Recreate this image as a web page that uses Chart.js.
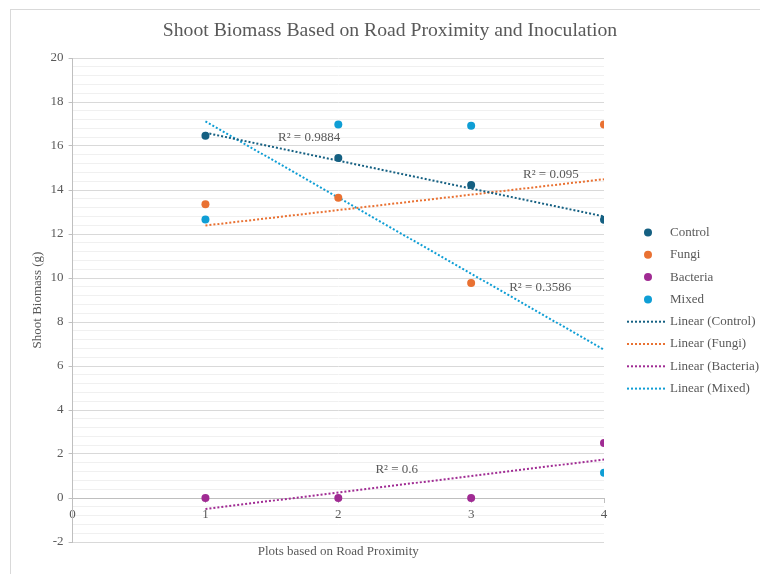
<!DOCTYPE html>
<html>
<head>
<meta charset="utf-8">
<title>Shoot Biomass</title>
<script src="https://cdn.jsdelivr.net/npm/chart.js@4.4.1/dist/chart.umd.min.js"></script>
<style>
  html, body { margin: 0; padding: 0; background: #fff; }
  #wrap { width: 760px; height: 574px; position: relative; }
</style>
</head>
<body>
<div id="wrap"><canvas id="biomassChart"></canvas></div>
<script>
// Plot numbers along the road and shoot biomass (g) per treatment
const plots = [1, 2, 3, 4];
const controlValues = [16.47, 15.45, 14.23, 12.65];
const fungiValues = [13.35, 13.65, 9.77, 16.98];
const bacteriaValues = [0, 0, 0, 2.5];
const mixedValues = [12.66, 16.98, 16.92, 1.15];

const seriesNames = ['Control', 'Fungi', 'Bacteria', 'Mixed'];
const rSquaredLabels = ['R² = 0.9884', 'R² = 0.095', 'R² = 0.6', 'R² = 0.3586'];

const xTicks = [0, 1, 2, 3, 4];
const yTicks = [-2, 0, 2, 4, 6, 8, 10, 12, 14, 16, 18, 20];

const seriesValues = [controlValues, fungiValues, bacteriaValues, mixedValues];
const seriesColors = ['#156082', '#e97132', '#a02b93', '#0f9ed5'];
// where each R² text sits, in axis units
const labelAnchors = [[1.78, 16.38], [3.6, 14.7], [2.44, 1.29], [3.52, 9.56]];

const TEXT = '#595959';
const FONT = '"Liberation Serif", "Times New Roman", serif';
Chart.defaults.font.family = FONT;
Chart.defaults.color = TEXT;

// least squares line through a series, returned as its two end points
function linearTrend(xs, ys) {
    const n = xs.length;
    const mx = xs.reduce((a, b) => a + b, 0) / n;
    const my = ys.reduce((a, b) => a + b, 0) / n;
    let sxy = 0, sxx = 0;
    xs.forEach((x, i) => {
        sxy += (x - mx) * (ys[i] - my);
        sxx += (x - mx) * (x - mx);
    });
    const slope = sxy / sxx;
    const icpt = my - slope * mx;
    return [xs[0], xs[n - 1]].map(x => ({ x: x, y: icpt + slope * x }));
}

const isMajor = v => Math.abs(v / 2 - Math.round(v / 2)) < 1e-6;

const datasets = [];
seriesNames.forEach((name, i) => {
    datasets.push({
        type: 'scatter',
        label: name,
        data: plots.map((x, j) => ({ x: x, y: seriesValues[i][j] })),
        backgroundColor: seriesColors[i],
        borderColor: seriesColors[i],
        pointRadius: 4,
        pointBorderWidth: 0,
        order: 0
    });
});
seriesNames.forEach((name, i) => {
    datasets.push({
        type: 'line',
        label: 'Linear (' + name + ')',
        data: linearTrend(plots, seriesValues[i]),
        borderColor: seriesColors[i],
        borderWidth: 2,
        borderDash: [2, 2],
        pointRadius: 0,
        fill: false,
        order: 1
    });
});

// outer frame of the chart object and the title
const framePlugin = {
    id: 'frame',
    beforeDraw(chart) {
        const ctx = chart.ctx;
        ctx.save();
        ctx.strokeStyle = '#d9d9d9';
        ctx.lineWidth = 1;
        ctx.strokeRect(10.5, 9.5, 800, 600);
        ctx.font = '19.7px ' + FONT;
        ctx.fillStyle = TEXT;
        ctx.textAlign = 'center';
        ctx.textBaseline = 'middle';
        ctx.fillText('Shoot Biomass Based on Road Proximity and Inoculation', 390, 31);
        ctx.restore();
    }
};

// R² texts, x axis title and the legend on the right
const notesPlugin = {
    id: 'notes',
    afterDraw(chart) {
        const ctx = chart.ctx;
        const xs = chart.scales.x, ys = chart.scales.y;
        ctx.save();
        ctx.font = '13px ' + FONT;
        ctx.fillStyle = TEXT;
        ctx.textBaseline = 'middle';
        ctx.textAlign = 'center';
        rSquaredLabels.forEach((txt, i) => {
            const [ax, ay] = labelAnchors[i];
            ctx.fillText(txt, xs.getPixelForValue(ax), ys.getPixelForValue(ay));
        });

        const area = chart.chartArea;
        ctx.fillText('Plots based on Road Proximity', (area.left + area.right) / 2, 552);

        // legend
        const step = 22.3;
        let y = 232.5;
        ctx.textAlign = 'left';
        seriesNames.forEach((name, i) => {
            ctx.fillStyle = seriesColors[i];
            ctx.beginPath();
            ctx.arc(648, y, 4, 0, Math.PI * 2);
            ctx.fill();
            ctx.fillStyle = TEXT;
            ctx.fillText(name, 670, y);
            y += step;
        });
        seriesNames.forEach((name, i) => {
            ctx.strokeStyle = seriesColors[i];
            ctx.lineWidth = 2;
            ctx.setLineDash([2, 2]);
            ctx.beginPath();
            ctx.moveTo(627, y);
            ctx.lineTo(666, y);
            ctx.stroke();
            ctx.setLineDash([]);
            ctx.fillStyle = TEXT;
            ctx.fillText('Linear (' + name + ')', 670, y);
            y += step;
        });
        ctx.restore();
    }
};

new Chart(document.getElementById('biomassChart'), {
    type: 'scatter',
    data: { datasets: datasets },
    plugins: [framePlugin, notesPlugin],
    options: {
        responsive: true,
        maintainAspectRatio: false,
        animation: false,
        layout: { padding: { left: 21, right: 156, top: 58, bottom: 32 } },
        plugins: {
            legend: { display: false },
            tooltip: { enabled: false },
            title: { display: false }
        },
        scales: {
            x: {
                type: 'linear',
                min: xTicks[0],
                max: xTicks[xTicks.length - 1],
                position: { y: 0 },
                afterBuildTicks: scale => { scale.ticks = xTicks.map(v => ({ value: v })); },
                ticks: { font: { size: 13 }, color: TEXT, padding: 5 },
                grid: { drawOnChartArea: false, drawTicks: true, tickLength: 4, color: '#bfbfbf' },
                border: { color: '#bfbfbf' }
            },
            y: {
                type: 'linear',
                min: yTicks[0],
                max: yTicks[yTicks.length - 1],
                afterBuildTicks: scale => {
                    // majors every 2 with four minor lines between them
                    const ticks = [];
                    yTicks.forEach((v, i) => {
                        ticks.push({ value: v });
                        if (i < yTicks.length - 1) {
                            const gap = (yTicks[i + 1] - v) / 5;
                            for (let k = 1; k < 5; k++) ticks.push({ value: +(v + gap * k).toFixed(2) });
                        }
                    });
                    scale.ticks = ticks;
                },
                ticks: {
                    autoSkip: false,
                    font: { size: 13 },
                    color: TEXT,
                    padding: 5,
                    callback: v => isMajor(v) ? String(Math.round(v)) : ''
                },
                grid: {
                    color: c => isMajor(c.tick.value) ? '#d9d9d9' : '#f0f0f0',
                    tickColor: c => isMajor(c.tick.value) ? '#bfbfbf' : 'rgba(0,0,0,0)',
                    tickLength: 4
                },
                border: { color: '#bfbfbf' },
                title: {
                    display: true,
                    text: 'Shoot Biomass (g)',
                    font: { size: 13 },
                    color: TEXT,
                    padding: { top: 9, bottom: 0 }
                }
            }
        }
    }
});
</script>
</body>
</html>
